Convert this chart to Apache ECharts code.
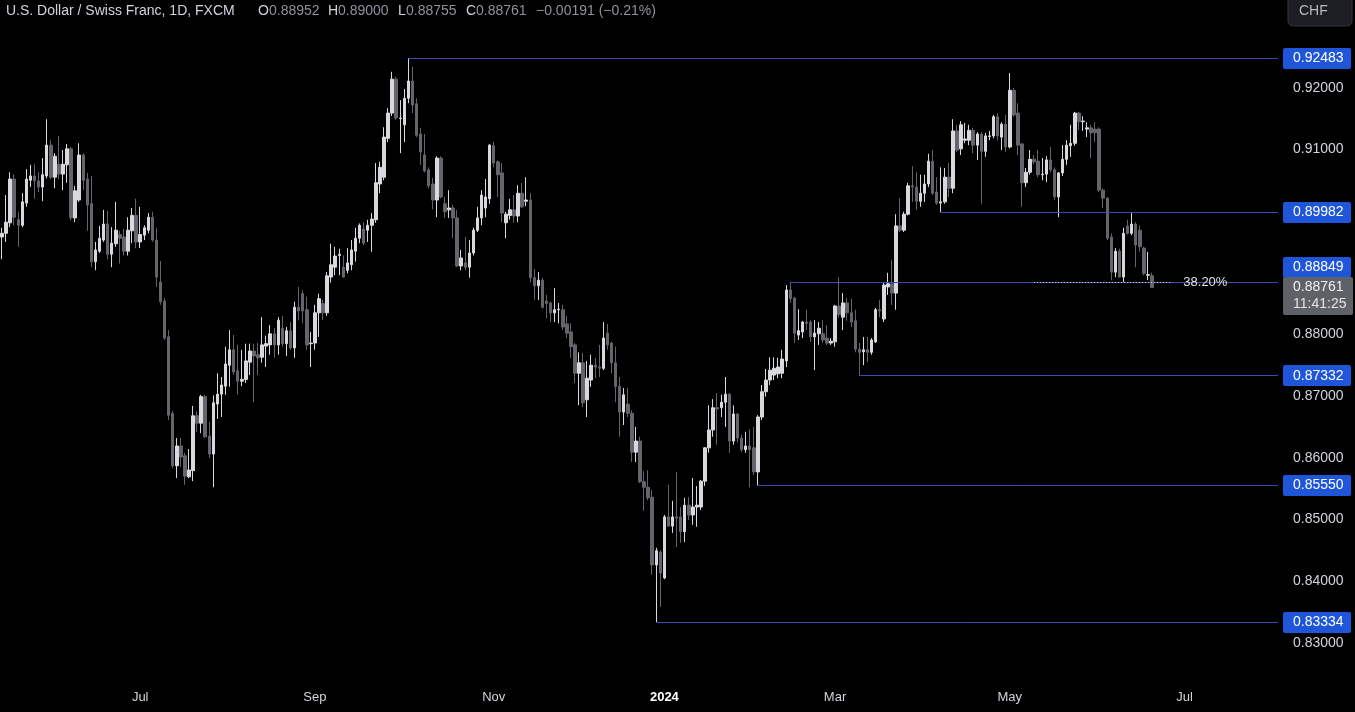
<!DOCTYPE html>
<html>
<head>
<meta charset="utf-8">
<script src="https://cdn.jsdelivr.net/npm/echarts/dist/echarts.min.js"></script>
<style>
html,body{margin:0;padding:0;background:#000;}
#c{width:1355px;height:712px;}
</style>
</head>
<body>
<div id="c"></div>
<script>
// ---- data (USD/CHF daily, FXCM) ----
const openP = [
0.8958,0.8964,0.8981,0.9052,0.8986,0.8977,0.9013,0.9050,0.9057,0.9049,
0.9039,0.9057,0.9107,0.9055,0.9076,0.9060,0.9075,0.9101,0.8989,0.9018,
0.9091,0.9052,0.9012,0.8918,0.8935,0.8953,0.8979,0.8930,0.8947,0.8962,
0.8958,0.8935,0.8968,0.8993,0.8950,0.8961,0.8969,0.8990,0.8953,0.8885,
0.8854,0.8796,0.8672,0.8587,0.8619,0.8603,0.8569,0.8579,0.8668,0.8656,
0.8699,0.8635,0.8606,0.8687,0.8703,0.8716,0.8750,0.8775,0.8741,0.8724,
0.8727,0.8755,0.8773,0.8767,0.8763,0.8781,0.8783,0.8801,0.8783,0.8810,
0.8785,0.8806,0.8778,0.8844,0.8866,0.8840,0.8785,0.8786,0.8835,0.8850,
0.8835,0.8893,0.8909,0.8928,0.8909,0.8904,0.8913,0.8935,0.8956,0.8971,
0.8969,0.8977,0.8986,0.9044,0.9055,0.9118,0.9159,0.9214,0.9150,0.9140,
0.9183,0.9211,0.9174,0.9125,0.9091,0.9067,0.9044,0.9018,0.9086,0.9012,
0.9002,0.9005,0.8989,0.8911,0.8916,0.8909,0.8932,0.8969,0.8989,0.9005,
0.9020,0.9106,0.9080,0.9062,0.8981,0.8993,0.9002,0.8992,0.9029,0.9016,
0.9018,0.8892,0.8879,0.8888,0.8854,0.8851,0.8835,0.8840,0.8840,0.8817,
0.8804,0.8783,0.8737,0.8754,0.8694,0.8726,0.8750,0.8747,0.8745,0.8802,
0.8786,0.8754,0.8716,0.8674,0.8687,0.8672,0.8609,0.8627,0.8561,0.8552,
0.8536,0.8426,0.8447,0.8405,0.8504,0.8489,0.8504,0.8504,0.8480,0.8523,
0.8507,0.8520,0.8520,0.8562,0.8616,0.8645,0.8681,0.8681,0.8690,0.8703,
0.8627,0.8671,0.8632,0.8613,0.8619,0.8616,0.8577,0.8666,0.8707,0.8726,
0.8734,0.8736,0.8737,0.8757,0.8872,0.8859,0.8799,0.8804,0.8820,0.8820,
0.8796,0.8801,0.8801,0.8794,0.8786,0.8788,0.8846,0.8828,0.8851,0.8835,
0.8822,0.8776,0.8772,0.8775,0.8771,0.8788,0.8840,0.8825,0.8877,0.8882,
0.8867,0.8976,0.8969,0.8995,0.9041,0.9039,0.9016,0.9029,0.9044,0.9081,
0.9031,0.9013,0.9015,0.9055,0.9037,0.9130,0.9101,0.9115,0.9115,0.9131,
0.9107,0.9125,0.9097,0.9121,0.9122,0.9153,0.9120,0.9141,0.9104,0.9196,
0.9159,0.9109,0.9046,0.9063,0.9084,0.9081,0.9059,0.9060,0.9083,0.9067,
0.9023,0.9062,0.9084,0.9106,0.9110,0.9159,0.9145,0.9133,0.9135,0.9133,
0.9133,0.9034,0.9021,0.8958,0.8901,0.8935,0.8893,0.8976,0.8964,0.8979,
0.8969,0.8940,0.8896,0.88952
];
const closeP = [
0.8964,0.8982,0.9052,0.8990,0.8977,0.9015,0.9052,0.9057,0.9049,0.9039,
0.9059,0.9107,0.9055,0.9089,0.9060,0.9076,0.9101,0.8989,0.9033,0.9091,
0.9050,0.9010,0.8918,0.8937,0.8956,0.8979,0.8930,0.8948,0.8969,0.8956,
0.8935,0.8969,0.8993,0.8950,0.8962,0.8973,0.8990,0.8953,0.8893,0.8853,
0.8794,0.8669,0.8587,0.8619,0.8601,0.8570,0.8580,0.8668,0.8656,0.8699,
0.8634,0.8606,0.8689,0.8703,0.8718,0.8752,0.8775,0.8739,0.8724,0.8727,
0.8757,0.8773,0.8765,0.8762,0.8783,0.8785,0.8801,0.8783,0.8823,0.8785,
0.8806,0.8778,0.8844,0.8838,0.8838,0.8783,0.8786,0.8835,0.8858,0.8835,
0.8895,0.8913,0.8927,0.8930,0.8893,0.8916,0.8937,0.8956,0.8977,0.8948,
0.8977,0.8987,0.9046,0.9071,0.9120,0.9159,0.9214,0.9151,0.9151,0.9183,
0.9211,0.9172,0.9123,0.9096,0.9065,0.9041,0.9018,0.9086,0.9023,0.8999,
0.9005,0.8989,0.8911,0.8924,0.8909,0.8932,0.8969,0.8989,0.9026,0.9023,
0.9107,0.9078,0.9059,0.8997,0.8995,0.9002,0.8992,0.9029,0.9007,0.9018,
0.8892,0.8879,0.8888,0.8844,0.8850,0.8835,0.8840,0.8841,0.8812,0.8802,
0.8780,0.8737,0.8754,0.8689,0.8729,0.8750,0.8747,0.8745,0.8794,0.8783,
0.8754,0.8715,0.8674,0.8702,0.8672,0.8609,0.8627,0.8561,0.8552,0.8535,
0.8426,0.8449,0.8413,0.8504,0.8489,0.8504,0.8502,0.8480,0.8523,0.8507,
0.8520,0.8523,0.8562,0.8616,0.8645,0.8681,0.8679,0.8690,0.8703,0.8627,
0.8671,0.8632,0.8613,0.8619,0.8613,0.8577,0.8666,0.8707,0.8726,0.8742,
0.8745,0.8747,0.8760,0.8872,0.8858,0.8802,0.8806,0.8820,0.8818,0.8796,
0.8802,0.8810,0.8791,0.8786,0.8789,0.8846,0.8832,0.8851,0.8835,0.8820,
0.8776,0.8771,0.8775,0.8771,0.8791,0.8840,0.8838,0.8880,0.8882,0.8867,
0.8976,0.8969,0.8995,0.9041,0.9039,0.9016,0.9029,0.9044,0.9081,0.9029,
0.9013,0.9015,0.9055,0.9037,0.9130,0.9099,0.9140,0.9117,0.9131,0.9107,
0.9125,0.9097,0.9122,0.9122,0.9153,0.9122,0.9141,0.9104,0.9196,0.9156,
0.9107,0.9046,0.9063,0.9084,0.9080,0.9059,0.9060,0.9083,0.9067,0.9023,
0.9062,0.9084,0.9107,0.9110,0.9159,0.9145,0.9146,0.9135,0.9127,0.9127,
0.9034,0.9021,0.8956,0.8901,0.8935,0.8893,0.8964,0.8964,0.8979,0.8945,
0.8942,0.8899,0.8897,0.88761
];
const lowP = [
0.8922,0.8950,0.8974,0.8977,0.8942,0.8974,0.9007,0.9039,0.9020,0.9031,
0.9016,0.9053,0.9052,0.9037,0.9052,0.9034,0.9046,0.8985,0.8982,0.9015,
0.9034,0.8968,0.8909,0.8904,0.8932,0.8950,0.8922,0.8909,0.8942,0.8915,
0.8928,0.8928,0.8948,0.8940,0.8940,0.8953,0.8964,0.8950,0.8877,0.8848,
0.8791,0.8661,0.8583,0.8567,0.8585,0.8556,0.8567,0.8562,0.8642,0.8640,
0.8632,0.8599,0.8552,0.8663,0.8666,0.8702,0.8715,0.8734,0.8702,0.8716,
0.8721,0.8734,0.8690,0.8734,0.8754,0.8747,0.8767,0.8762,0.8767,0.8780,
0.8765,0.8775,0.8762,0.8823,0.8818,0.8775,0.8747,0.8775,0.8796,0.8823,
0.8830,0.8884,0.8896,0.8896,0.8892,0.8899,0.8904,0.8918,0.8948,0.8945,
0.8950,0.8934,0.8981,0.9029,0.9050,0.9112,0.9154,0.9148,0.9094,0.9112,
0.9175,0.9159,0.9120,0.9075,0.9063,0.9037,0.9003,0.8990,0.9021,0.8989,
0.8989,0.8956,0.8909,0.8904,0.8904,0.8892,0.8928,0.8966,0.8977,0.8990,
0.9012,0.9071,0.9023,0.8982,0.8956,0.8986,0.8981,0.8982,0.9005,0.9008,
0.8884,0.8856,0.8856,0.8842,0.8826,0.8820,0.8820,0.8818,0.8807,0.8794,
0.8762,0.8721,0.8685,0.8682,0.8666,0.8715,0.8729,0.8731,0.8742,0.8775,
0.8737,0.8690,0.8634,0.8653,0.8666,0.8593,0.8593,0.8559,0.8514,0.8531,
0.8410,0.83334,0.8358,0.8403,0.8488,0.8478,0.8455,0.8462,0.8463,0.8499,
0.8491,0.8488,0.8515,0.8554,0.8608,0.8634,0.8621,0.8666,0.8650,0.8608,
0.8621,0.8625,0.8609,0.8608,0.8552,0.8572,0.8555,0.8661,0.8699,0.8718,
0.8726,0.8729,0.8729,0.8747,0.8851,0.8786,0.8791,0.8794,0.8807,0.8788,
0.8742,0.8783,0.8786,0.8783,0.8783,0.8780,0.8827,0.8807,0.8822,0.8812,
0.8771,0.87332,0.8750,0.8755,0.8767,0.8786,0.8828,0.8820,0.8864,0.8848,
0.8840,0.8966,0.8966,0.8993,0.9015,0.9002,0.9007,0.9015,0.9039,0.9026,
0.9010,0.89982,0.9012,0.9023,0.9029,0.9096,0.9091,0.9110,0.9107,0.9094,
0.9083,0.9012,0.9088,0.9115,0.9118,0.9115,0.9099,0.9096,0.9102,0.9153,
0.9091,0.9007,0.9039,0.9059,0.9076,0.9055,0.9050,0.9047,0.9063,0.9018,
0.8990,0.9057,0.9075,0.9088,0.9106,0.9131,0.9130,0.9120,0.9086,0.9112,
0.9031,0.9005,0.8953,0.8888,0.8893,0.8892,0.8884,0.8962,0.8961,0.8909,
0.8934,0.8896,0.8888,0.88755
];
const highP = [
0.8973,0.9026,0.9063,0.9060,0.8999,0.9029,0.9068,0.9075,0.9076,0.9063,
0.9086,0.9149,0.9115,0.9094,0.9122,0.9099,0.9109,0.9104,0.9041,0.9110,
0.9094,0.9062,0.9057,0.8950,0.8976,0.9002,0.9000,0.8974,0.9015,0.8968,
0.8971,0.8990,0.9005,0.9020,0.9007,0.8977,0.8997,0.8999,0.8973,0.8919,
0.8859,0.8807,0.8676,0.8632,0.8632,0.8608,0.8614,0.8684,0.8675,0.8702,
0.8702,0.8658,0.8701,0.8737,0.8731,0.8780,0.8807,0.8799,0.8783,0.8775,
0.8785,0.8785,0.8785,0.8786,0.8828,0.8798,0.8815,0.8810,0.8828,0.8830,
0.8812,0.8820,0.8853,0.8877,0.8872,0.8861,0.8804,0.8848,0.8866,0.8856,
0.8901,0.8947,0.8942,0.8939,0.8928,0.8940,0.8953,0.8973,0.8980,0.8982,
0.8986,0.8997,0.9078,0.9080,0.9136,0.9167,0.9226,0.9218,0.9180,0.9198,
0.92483,0.9234,0.9183,0.9135,0.9125,0.9071,0.9054,0.9089,0.9089,0.9023,
0.9034,0.9010,0.9002,0.8937,0.8958,0.8953,0.8973,0.9007,0.9034,0.9052,
0.9109,0.9112,0.9082,0.9078,0.8999,0.9020,0.9026,0.9042,0.9046,0.9055,
0.9029,0.8906,0.8901,0.8892,0.8864,0.8853,0.8875,0.8851,0.8848,0.8830,
0.8818,0.8786,0.8771,0.8770,0.8757,0.8767,0.8762,0.8783,0.8820,0.8817,
0.8788,0.8780,0.8731,0.8713,0.8713,0.8677,0.8650,0.8634,0.8578,0.8580,
0.8548,0.8454,0.8450,0.8507,0.8556,0.8530,0.8577,0.8520,0.8535,0.8536,
0.8567,0.8554,0.8564,0.8617,0.8685,0.8695,0.8705,0.8702,0.8731,0.8705,
0.8685,0.8672,0.8637,0.8642,0.8646,0.8650,0.8669,0.8718,0.8744,0.8763,
0.8763,0.8762,0.8775,0.8880,0.88849,0.8861,0.8841,0.8822,0.8840,0.8823,
0.8823,0.8820,0.8823,0.8815,0.8794,0.8848,0.8893,0.8867,0.8859,0.8858,
0.8840,0.8786,0.8796,0.8796,0.8794,0.8843,0.8856,0.8885,0.8900,0.8921,
0.8995,0.9021,0.8999,0.9046,0.9073,0.9063,0.9059,0.9059,0.9093,0.9099,
0.9055,0.9071,0.9070,0.9078,0.9149,0.9140,0.9146,0.9143,0.9140,0.9135,
0.9128,0.9128,0.9127,0.9130,0.9156,0.9159,0.9144,0.9156,0.9224,0.9200,
0.9175,0.9110,0.9070,0.9099,0.9091,0.9099,0.9086,0.9089,0.9104,0.9071,
0.9063,0.9107,0.9115,0.9140,0.9161,0.9161,0.9154,0.9144,0.9140,0.9144,
0.9136,0.9037,0.9023,0.8964,0.8940,0.8939,0.8973,0.8986,0.8997,0.8982,
0.8977,0.8942,0.8934,0.89000
];

// horizontal levels (value, bar index where the ray starts)
const levelValues = [0.92483, 0.89982, 0.88849, 0.87332, 0.85550, 0.83334];
const levelStarts = [100, 231, 194, 211, 186, 161];
const levelLabelShift = [0, 0, -15, 0, 0, 0];
// Fibonacci retracement level
const fibValue = 0.8884;
const fibRange = [254, 288];
const fibText = '38.20%';
// axis labels
const yTickValues = [0.83, 0.84, 0.85, 0.86, 0.87, 0.88, 0.89, 0.90, 0.91, 0.92];
const xTickIndex = [34, 77, 121, 163, 205, 248, 291];
const xTickText = ['Jul', 'Sep', 'Nov', '2024', 'Mar', 'May', 'Jul'];
const categoryCount = 315;
const startDate = '2023-05-16';
const headerTitle = 'U.S. Dollar / Swiss Franc, 1D, FXCM';
const lastChange = '\u22120.00191 (\u22120.21%)';
const countdown = '11:41:25';

// categories: consecutive trading days
const categories = [];
(function(){
  const d = new Date(startDate + 'T00:00:00Z');
  while (categories.length < categoryCount) {
    const wd = d.getUTCDay();
    if (wd !== 0 && wd !== 6) categories.push(d.toISOString().slice(0, 10));
    d.setUTCDate(d.getUTCDate() + 1);
  }
})();

const candles = openP.map((o, i) => [o, closeP[i], lowP[i], highP[i]]);
const xTickMap = {};
xTickIndex.forEach((idx, k) => { xTickMap[idx] = xTickText[k]; });

const FONT = 'Liberation Sans, Arial, sans-serif';
const TXT = '#d1d4dc';
const UP = '#d9d9dd';
const DOWN = '#64656b';
const LINE_BLUE = '#3a4bb8';
const BOX_BLUE = '#1f55d8';

// y-range matching the reference scale
const yMax = 0.934242;
const yMin = 0.823942;

const levelLines = levelValues.map((v, k) => [
  { coord: [levelStarts[k], v] },
  { coord: [categoryCount - 1, v] }
]);

const option = {
  backgroundColor: '#000000',
  animation: false,
  grid: { left: 0, right: 75, top: 0, bottom: 32, containLabel: false },
  xAxis: {
    type: 'category',
    data: categories,
    boundaryGap: true,
    axisLine: { show: false },
    axisTick: { show: false },
    splitLine: { show: false },
    axisLabel: {
      interval: (idx) => xTickMap[idx] !== undefined,
      formatter: (val, idx) => {
        const t = xTickMap[idx];
        if (t === undefined) return '';
        return t === '2024' ? '{b|' + t + '}' : t;
      },
      color: TXT,
      fontSize: 13,
      fontFamily: FONT,
      margin: 11,
      rich: { b: { fontWeight: 'bold', color: '#ffffff', fontSize: 13, fontFamily: FONT } }
    }
  },
  yAxis: {
    type: 'value',
    position: 'right',
    min: yMin,
    max: yMax,
    splitNumber: 11,
    minInterval: 0.01,
    maxInterval: 0.01,
    axisLine: { show: false },
    axisTick: { show: false },
    splitLine: { show: false },
    axisLabel: {
      showMinLabel: false,
      showMaxLabel: false,
      margin: 13,
      color: TXT,
      fontSize: 14,
      fontFamily: FONT,
      formatter: (v) => yTickValues.some(t => Math.abs(t - v) < 1e-7) ? v.toFixed(5) : ''
    }
  },
  series: [{
    type: 'candlestick',
    data: candles,
    barWidth: 3,
    clip: false,
    itemStyle: {
      color: UP, color0: DOWN,
      borderColor: UP, borderColor0: DOWN,
      borderWidth: 1
    },
    markLine: {
      silent: true,
      symbol: ['none', 'none'],
      animation: false,
      precision: 5,
      label: { show: false },
      lineStyle: { color: LINE_BLUE, width: 1, type: 'solid' },
      emphasis: { disabled: true },
      data: levelLines.concat([[
        { coord: [fibRange[0], fibValue],
          lineStyle: { color: '#e6e6e6', width: 1, type: [1, 2] },
          label: { show: true, position: 'end', formatter: fibText, color: '#e0e2e8', fontSize: 13, fontFamily: FONT, distance: 11 } },
        { coord: [fibRange[1], fibValue] }
      ]])
    }
  }]
};

const chart = echarts.init(document.getElementById('c'), null, { renderer: 'canvas' });
chart.setOption(option);

// right-side price tags & header placed through the chart's own scale
const g = [];
levelValues.forEach((v, k) => {
  const y = chart.convertToPixel({ yAxisIndex: 0 }, v) + levelLabelShift[k];
  g.push({ type: 'rect', z: 100, shape: { x: 1283, y: Math.round(y - 10.5), width: 68, height: 21, r: 2 }, style: { fill: BOX_BLUE } });
  g.push({ type: 'text', z: 101, x: 1293, y: Math.round(y) + 0.5, style: { text: v.toFixed(5), fill: '#ffffff', font: '14px ' + FONT, verticalAlign: 'middle' } });
});
const lastClose = closeP[closeP.length - 1];
const py = chart.convertToPixel({ yAxisIndex: 0 }, lastClose);
g.push({ type: 'rect', z: 100, shape: { x: 1283, y: Math.round(py - 10.5), width: 70, height: 38, r: 2 }, style: { fill: '#5f6168' } });
g.push({ type: 'text', z: 101, x: 1293, y: Math.round(py), style: { text: lastClose.toFixed(5), fill: '#f0f0f2', font: '14px ' + FONT, verticalAlign: 'middle' } });
g.push({ type: 'text', z: 101, x: 1293, y: Math.round(py) + 17, style: { text: countdown, fill: '#e4e4e8', font: '14px ' + FONT, verticalAlign: 'middle' } });

// currency button
g.push({ type: 'rect', z: 100, shape: { x: 1288, y: -5, width: 64, height: 31, r: 5 }, style: { fill: '#1c1e24', stroke: '#34363e', lineWidth: 1 } });
g.push({ type: 'text', z: 101, x: 1299, y: 11, style: { text: 'CHF', fill: '#b8bbc3', font: '14px ' + FONT, verticalAlign: 'middle' } });

// header legend
const header = [
  { t: headerTitle, x: 6, c: TXT },
  { t: 'O', x: 258, c: TXT }, { t: openP[openP.length - 1].toFixed(5), x: 269, c: '#8f929b' },
  { t: 'H', x: 328, c: TXT }, { t: highP[highP.length - 1].toFixed(5), x: 338, c: '#8f929b' },
  { t: 'L', x: 398, c: TXT }, { t: lowP[lowP.length - 1].toFixed(5), x: 406, c: '#8f929b' },
  { t: 'C', x: 466, c: TXT }, { t: lastClose.toFixed(5), x: 476, c: '#8f929b' },
  { t: lastChange, x: 536, c: '#8f929b' }
];
header.forEach(h => {
  g.push({ type: 'text', z: 101, x: h.x, y: 11, style: { text: h.t, fill: h.c, font: '14px ' + FONT, verticalAlign: 'middle' } });
});

chart.setOption({ graphic: { elements: g } });
</script>
</body>
</html>
